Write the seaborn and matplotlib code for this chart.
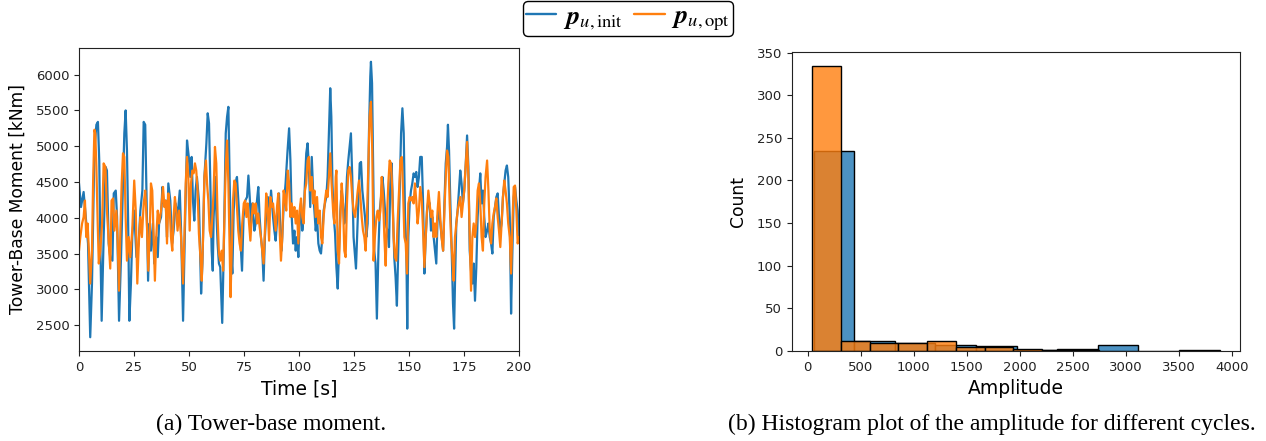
import numpy as np
import pandas as pd
import matplotlib
matplotlib.use("Agg")
import matplotlib.pyplot as plt
import seaborn as sns
from matplotlib.lines import Line2D
from matplotlib.mathtext import MathTextParser

# ---------------- data ----------------
# (time [s], tower-base moment [kNm]) vertices, p_u,init
init_points = [
    (0.0, 4480), (0.9, 4150), (2.1, 4360), (3.3, 3920), (4.1, 3640), (5.1, 2330), (5.9, 3080), (7.0, 4940),
    (7.9, 5300), (8.6, 5340), (9.2, 4800), (9.7, 3640), (10.3, 2560), (11.2, 3730), (12.1, 4710), (12.7, 4660),
    (13.5, 3640), (14.2, 3450), (15.2, 3400), (15.8, 4340), (16.7, 4380), (17.3, 4010), (18.2, 2560), (19.1, 3450),
    (20.0, 4480), (20.6, 5180), (21.2, 5500), (21.8, 4940), (22.3, 4010), (22.9, 2560), (23.6, 3080), (24.2, 3730),
    (25.1, 4100), (26.1, 3450), (27.1, 3640), (27.9, 4100), (28.8, 4380), (29.4, 5340), (30.1, 5300), (30.6, 4480),
    (31.4, 3120), (32.1, 3920), (32.7, 3540), (33.6, 3920), (34.2, 3360), (35.1, 3730), (35.8, 3450), (36.4, 3920),
    (37.3, 4010), (37.9, 4430), (38.5, 4200), (39.4, 4240), (40.0, 3730), (40.6, 4480), (41.5, 4240), (42.3, 3640),
    (43.0, 3820), (43.9, 4200), (44.8, 4010), (45.8, 4380), (46.4, 3820), (47.3, 2560), (48.2, 3920), (49.1, 5080),
    (49.9, 4850), (50.6, 4570), (51.2, 4850), (51.8, 4240), (52.4, 3960), (53.0, 4380), (53.6, 4570), (54.5, 4240),
    (55.5, 2940), (56.1, 3360), (57.0, 4570), (57.9, 5040), (58.5, 5460), (59.1, 5320), (59.7, 4480), (60.3, 3540),
    (60.8, 3260), (61.2, 4010), (62.0, 4570), (62.4, 4100), (63.0, 3640), (63.6, 3360), (64.2, 3310), (65.1, 2530),
    (65.8, 3540), (66.7, 5180), (67.3, 5410), (67.9, 5550), (68.5, 4480), (69.1, 3540), (69.7, 3220), (70.3, 4100),
    (71.1, 4480), (71.8, 4570), (72.6, 4150), (73.3, 3730), (74.1, 3260), (74.8, 4010), (75.6, 4240), (76.4, 4290),
    (77.0, 4590), (77.6, 4290), (78.2, 3920), (78.8, 4200), (79.7, 3820), (80.3, 3920), (80.9, 4240), (81.5, 4430),
    (82.1, 4010), (82.7, 3730), (83.3, 3540), (83.9, 3120), (84.5, 3730), (85.2, 4100), (85.8, 4290), (86.7, 4100),
    (87.3, 4380), (88.2, 4010), (88.8, 3820), (89.4, 3680), (90.3, 4100), (90.9, 4340), (91.5, 3820), (92.1, 3540),
    (93.0, 4150), (93.9, 4480), (94.8, 4940), (95.5, 5250), (96.1, 4800), (96.7, 4010), (97.3, 3640), (97.9, 3820),
    (98.5, 3540), (99.1, 3730), (99.7, 3450), (100.3, 3920), (100.9, 4200), (101.5, 3820), (102.1, 4010),
    (102.7, 4480), (103.3, 4900), (103.9, 5040), (104.5, 4710), (105.1, 4150), (105.8, 4850), (106.4, 4380),
    (107.0, 4100), (107.6, 3820), (108.2, 4010), (108.8, 3640), (109.4, 3540), (110.0, 3500), (110.6, 3730),
    (111.2, 4100), (111.8, 4200), (112.4, 4290), (113.0, 4570), (113.6, 5180), (114.2, 5810), (114.7, 5410),
    (115.2, 4480), (115.8, 4010), (116.4, 3780), (117.0, 3310), (117.6, 3010), (118.2, 3540), (118.8, 4100),
    (119.4, 4380), (120.0, 4200), (120.6, 3920), (121.2, 4100), (121.8, 4570), (122.4, 4800), (123.0, 4990),
    (123.6, 5180), (124.2, 4570), (124.8, 3730), (125.5, 3450), (125.9, 3290), (126.4, 3730), (127.0, 4290),
    (127.6, 4760), (128.2, 4780), (128.8, 4380), (129.4, 4200), (130.0, 4010), (130.6, 3730), (131.2, 3920),
    (131.8, 5180), (132.4, 5970), (132.7, 6180), (133.2, 5880), (133.6, 4940), (134.2, 3540), (134.8, 3360),
    (135.4, 2590), (136.1, 3540), (136.7, 4100), (137.3, 4290), (137.9, 4570), (138.5, 4380), (139.1, 4100),
    (139.7, 3870), (140.3, 3820), (140.9, 3590), (141.5, 4480), (142.1, 4760), (142.7, 4100), (143.3, 3450),
    (143.9, 3170), (144.5, 2770), (145.1, 3540), (145.8, 4480), (146.4, 5180), (147.0, 5530), (147.6, 5180),
    (148.2, 4010), (148.8, 3540), (149.2, 2450), (149.7, 3730), (150.3, 4200), (150.9, 4380), (151.5, 4480),
    (152.1, 4620), (152.7, 4570), (153.3, 4640), (153.9, 4430), (154.5, 4570), (155.1, 4850), (155.8, 4850),
    (156.4, 4200), (157.0, 3220), (157.6, 3730), (158.2, 4100), (158.8, 4240), (159.4, 4200), (160.0, 3820),
    (160.6, 4010), (161.2, 3730), (161.8, 3540), (162.4, 3360), (163.0, 4010), (163.6, 4100), (164.2, 3920),
    (164.8, 3730), (165.5, 3540), (166.1, 4200), (166.7, 4760), (167.3, 4990), (167.7, 5300), (168.2, 4940),
    (168.8, 4200), (169.4, 3540), (170.0, 2800), (170.5, 2450), (170.9, 3080), (171.5, 3920), (172.1, 4100),
    (172.7, 4380), (173.3, 4660), (173.9, 4480), (174.5, 4200), (175.1, 4380), (175.8, 4760), (176.4, 5150),
    (177.0, 4710), (177.6, 3540), (178.2, 3260), (178.8, 3080), (179.4, 3360), (180.0, 2840), (180.6, 3310),
    (181.2, 4010), (181.8, 4380), (182.4, 4620), (183.0, 4200), (183.6, 4380), (184.2, 4010), (184.8, 3730),
    (185.5, 3820), (186.1, 3920), (186.7, 3730), (187.3, 3640), (187.9, 3500), (188.5, 4010), (189.1, 4150),
    (189.7, 4290), (190.3, 4340), (190.9, 4010), (191.5, 3820), (192.1, 3920), (192.7, 4290), (193.3, 4480),
    (193.9, 4660), (194.5, 4730), (195.1, 4570), (195.8, 4010), (196.4, 2660), (197.0, 3540), (197.6, 4290),
    (198.2, 4430), (198.8, 4240), (199.4, 4100), (200.0, 3730),
]

# (time [s], tower-base moment [kNm]) vertices, p_u,opt
opt_points = [
    (0.0, 3540), (0.6, 3730), (1.4, 3920), (2.1, 4010), (2.7, 4240), (3.3, 3730), (3.9, 3920), (4.5, 3540),
    (5.1, 3080), (5.9, 3540), (6.4, 4480), (7.0, 5230), (7.4, 5180), (7.9, 4710), (8.5, 3920), (9.0, 3360),
    (9.7, 3540), (10.5, 3920), (11.2, 4760), (12.0, 4710), (12.7, 4100), (13.5, 3680), (14.2, 3290), (14.8, 4240),
    (15.5, 4270), (16.1, 3820), (17.0, 4100), (17.6, 3640), (18.2, 2980), (18.8, 3820), (19.4, 4480), (20.0, 4900),
    (20.6, 4850), (21.2, 4010), (21.8, 3400), (22.6, 3730), (23.3, 3450), (24.2, 3820), (25.1, 4520), (25.8, 4100),
    (26.5, 3080), (27.3, 3730), (27.9, 4010), (28.6, 3730), (29.4, 4200), (30.1, 4380), (30.9, 3870), (31.5, 3260),
    (32.1, 3730), (32.7, 4480), (33.3, 4380), (33.9, 3730), (34.5, 3120), (35.1, 3730), (35.8, 4100), (36.4, 3920),
    (37.3, 4100), (38.2, 4430), (38.8, 4150), (39.4, 4240), (40.0, 3640), (40.6, 4340), (41.2, 4150), (41.8, 3730),
    (42.4, 3540), (43.0, 4010), (43.6, 4290), (44.2, 4100), (44.8, 3820), (45.5, 4100), (46.4, 3730), (47.3, 3080),
    (47.9, 3730), (48.5, 4480), (49.1, 4850), (49.7, 4570), (50.3, 3820), (50.9, 4480), (51.5, 4660), (52.1, 4620),
    (52.7, 4760), (53.3, 4660), (53.9, 4380), (54.5, 3780), (55.2, 3450), (55.8, 3120), (56.4, 3730), (57.0, 4570),
    (57.7, 4800), (58.2, 4480), (58.8, 4240), (59.4, 3820), (60.0, 3730), (60.6, 4010), (61.2, 4380), (61.8, 4990),
    (62.4, 4760), (63.0, 4010), (63.6, 3500), (64.2, 3400), (64.9, 3540), (65.5, 3260), (66.1, 4010), (66.7, 4710),
    (67.3, 5080), (67.9, 4480), (68.5, 3540), (68.9, 2890), (69.4, 3540), (70.0, 4240), (70.6, 4520), (71.2, 4480),
    (71.8, 4150), (72.4, 3820), (73.0, 3640), (73.6, 3540), (74.2, 3920), (74.9, 4200), (75.5, 4240), (76.1, 4010),
    (76.7, 4200), (77.3, 3920), (77.9, 3680), (78.5, 4010), (79.1, 4200), (79.7, 4060), (80.3, 4200), (80.9, 3920),
    (81.5, 4060), (82.1, 3870), (82.7, 3730), (83.3, 3540), (83.9, 3360), (84.5, 3820), (85.1, 4340), (85.8, 4100),
    (86.4, 3680), (87.0, 4290), (87.6, 4150), (88.2, 4200), (88.8, 4010), (89.4, 3820), (90.0, 4150), (90.6, 4340),
    (91.2, 3820), (91.8, 3400), (92.4, 3730), (93.0, 4380), (93.6, 4290), (94.2, 4100), (94.9, 4660), (95.5, 4480),
    (96.1, 4010), (96.7, 4200), (97.3, 4010), (97.9, 4150), (98.5, 3920), (99.1, 4100), (99.7, 3640), (100.3, 4100),
    (100.9, 4270), (101.5, 4010), (102.1, 3920), (102.7, 4380), (103.3, 4480), (103.9, 4800), (104.5, 4850),
    (105.1, 4380), (105.8, 4570), (106.4, 4200), (107.0, 4380), (107.6, 4010), (108.2, 4290), (108.8, 3920),
    (109.4, 4100), (110.0, 3730), (110.6, 3640), (111.2, 4010), (111.8, 4240), (112.4, 4380), (113.0, 4290),
    (113.6, 4570), (114.2, 4900), (114.8, 4480), (115.5, 4100), (116.1, 3920), (116.7, 4570), (117.0, 4660),
    (117.6, 3540), (118.2, 3360), (118.8, 4010), (119.4, 4480), (120.0, 4200), (120.6, 3540), (121.2, 3450),
    (121.8, 4200), (122.4, 4660), (123.0, 4710), (123.6, 4570), (124.2, 4290), (124.8, 4100), (125.5, 4010),
    (126.1, 4200), (126.7, 4380), (127.3, 4520), (127.9, 4290), (128.5, 4010), (129.1, 3820), (129.7, 3730),
    (130.3, 3540), (130.9, 4010), (131.5, 4710), (132.1, 5410), (132.7, 5620), (133.3, 4940), (133.9, 3400),
    (134.5, 3730), (135.2, 4010), (135.8, 4100), (136.4, 3960), (137.0, 4100), (137.6, 4570), (138.2, 4290),
    (138.8, 3730), (139.4, 3330), (140.0, 4010), (140.6, 4480), (141.2, 4800), (141.8, 4760), (142.4, 4380),
    (143.0, 3730), (143.6, 3450), (144.2, 3400), (144.8, 3920), (145.5, 4380), (146.1, 4800), (146.7, 4850),
    (147.3, 4380), (147.9, 3730), (148.5, 3640), (149.1, 3220), (149.7, 4200), (150.3, 4290), (150.9, 4240),
    (151.5, 4290), (152.1, 4200), (152.7, 4480), (153.3, 4240), (153.9, 3920), (154.5, 4100), (155.1, 4430),
    (155.8, 4240), (156.4, 3820), (157.0, 3310), (157.6, 3730), (158.2, 4100), (158.8, 4380), (159.4, 4200),
    (160.0, 4010), (160.6, 4100), (161.2, 3730), (161.8, 3920), (162.4, 3730), (163.0, 4100), (163.6, 4360),
    (164.2, 4010), (164.8, 3730), (165.5, 3540), (166.1, 4100), (166.7, 4570), (167.3, 4940), (167.9, 4850),
    (168.5, 4200), (169.1, 3730), (169.7, 3450), (170.3, 3120), (170.9, 3730), (171.5, 3920), (172.1, 4100),
    (172.7, 4200), (173.3, 4290), (173.9, 4010), (174.5, 4200), (175.1, 4380), (175.8, 4760), (176.4, 5060),
    (177.0, 4570), (177.6, 3730), (178.2, 2980), (178.8, 3730), (179.4, 3920), (180.0, 3730), (180.6, 3920),
    (181.2, 4380), (181.8, 4480), (182.4, 4200), (183.0, 3730), (183.6, 3540), (184.2, 4200), (184.8, 4570),
    (185.5, 4800), (186.1, 4380), (186.7, 3820), (187.3, 3640), (187.9, 3920), (188.5, 4060), (189.1, 4150),
    (189.7, 4270), (190.3, 4010), (190.9, 3820), (191.5, 3590), (192.1, 3920), (192.7, 4290), (193.3, 4520),
    (193.9, 4380), (194.5, 4200), (195.1, 3920), (195.8, 3730), (196.4, 3220), (197.0, 3920), (197.6, 4430),
    (198.2, 4450), (198.8, 4100), (199.4, 3640), (200.0, 3730),
]

# histogram of cycle amplitudes: bin edges and counts
init_edges = [56, 439, 822, 1205, 1588, 1971, 2354, 2737, 3120, 3503, 3887]
init_counts = [235, 12, 9, 7, 6, 1, 2, 7, 0, 1]
opt_edges = [43, 314, 585, 855, 1126, 1397, 1668, 1939, 2210, 2480, 2751]
opt_counts = [334, 12, 9, 9, 12, 5, 5, 2, 1, 1]

time_ticks = [0, 25, 50, 75, 100, 125, 150, 175, 200]
amp_ticks = [0, 500, 1000, 1500, 2000, 2500, 3000, 3500, 4000]
count_ticks = [0, 50, 100, 150, 200, 250, 300, 350]

C_BLUE = "#1f77b4"
C_ORANGE = "#ff7f0e"

# ---------------- style ----------------
sns.set_style("ticks")
plt.rcParams["font.family"] = ["DejaVu Sans"]
plt.rcParams["mathtext.fontset"] = "stix"
plt.rcParams["axes.edgecolor"] = "#222222"
plt.rcParams["xtick.color"] = "#222222"
plt.rcParams["ytick.color"] = "#222222"
plt.rcParams["text.color"] = "black"
plt.rcParams["axes.labelcolor"] = "black"


def pick_math(cands):
    parser = MathTextParser("path")
    for c in cands:
        try:
            parser.parse(c)
            return c
        except Exception:
            continue
    return cands[-1]


lab_init = pick_math([r"$\boldsymbol{p}_{u,\mathrm{init}}$", r"$\mathbfit{p}_{u,\mathrm{init}}$",
                      r"$\mathbf{p}_{u,\mathrm{init}}$"])
lab_opt = pick_math([r"$\boldsymbol{p}_{u,\mathrm{opt}}$", r"$\mathbfit{p}_{u,\mathrm{opt}}$",
                     r"$\mathbf{p}_{u,\mathrm{opt}}$"])

W, H = 1266, 441
fig = plt.figure(figsize=(W / 100, H / 100), dpi=100)
ax1 = fig.add_axes([79 / W, 90 / H, 440 / W, 303 / H])
ax2 = fig.add_axes([792 / W, 90 / H, 448 / W, 299 / H])

# ---------------- (a) time series ----------------
df_init = pd.DataFrame(init_points, columns=["t", "m"])
df_opt = pd.DataFrame(opt_points, columns=["t", "m"])
sns.lineplot(data=df_init, x="t", y="m", ax=ax1, color=C_BLUE, lw=1.6,
             estimator=None, sort=False)
sns.lineplot(data=df_opt, x="t", y="m", ax=ax1, color=C_ORANGE, lw=1.6,
             estimator=None, sort=False)
ax1.set_xlim(0, 200)
ax1.set_xticks(time_ticks)
ax1.set_xlabel("Time [s]", fontsize=13.5)
ax1.set_ylabel("Tower-Base Moment [kNm]", fontsize=12.3)
ax1.yaxis.set_label_coords(-0.118, 0.5)
ax1.tick_params(labelsize=9.5, length=3.5, width=0.8)

# ---------------- (b) histogram ----------------
init_centers = [(a + b) / 2 for a, b in zip(init_edges[:-1], init_edges[1:])]
opt_centers = [(a + b) / 2 for a, b in zip(opt_edges[:-1], opt_edges[1:])]
sns.histplot(x=init_centers, weights=init_counts, bins=init_edges, ax=ax2,
             color=C_BLUE, alpha=0.8, edgecolor="black", linewidth=1.0)
sns.histplot(x=opt_centers, weights=opt_counts, bins=opt_edges, ax=ax2,
             color=C_ORANGE, alpha=0.8, edgecolor="black", linewidth=1.0)
ax2.set_xticks(amp_ticks)
ax2.set_yticks(count_ticks)
ax2.set_xlabel("Amplitude", fontsize=13.5)
ax2.set_ylabel("Count", fontsize=12.3)
ax2.yaxis.set_label_coords(-0.1, 0.5)
ax2.tick_params(labelsize=9.5, length=3.5, width=0.8)
ax2.set_xlim(-149, 4079)
ax2.set_ylim(0, 350.7)

# ---------------- legend and captions ----------------
handles = [Line2D([], [], color=C_BLUE, lw=1.7), Line2D([], [], color=C_ORANGE, lw=1.7)]
fig.legend(handles, [lab_init, lab_opt], loc="center",
           bbox_to_anchor=(628 / W, 1 - 18.5 / H), ncol=2, fontsize=19,
           frameon=True, fancybox=True, edgecolor="black", framealpha=1,
           borderpad=0.1, handlelength=1.15, handletextpad=0.25,
           columnspacing=0.45, borderaxespad=0)

fig.text(271 / W, 1 - 424 / H, "(a) Tower-base moment.", ha="center", va="center",
         family=["Liberation Serif", "DejaVu Serif"], fontsize=17)
fig.text(992 / W, 1 - 424 / H, "(b) Histogram plot of the amplitude for different cycles.",
         ha="center", va="center", family=["Liberation Serif", "DejaVu Serif"], fontsize=17)

fig.savefig("out.png", dpi=100)
